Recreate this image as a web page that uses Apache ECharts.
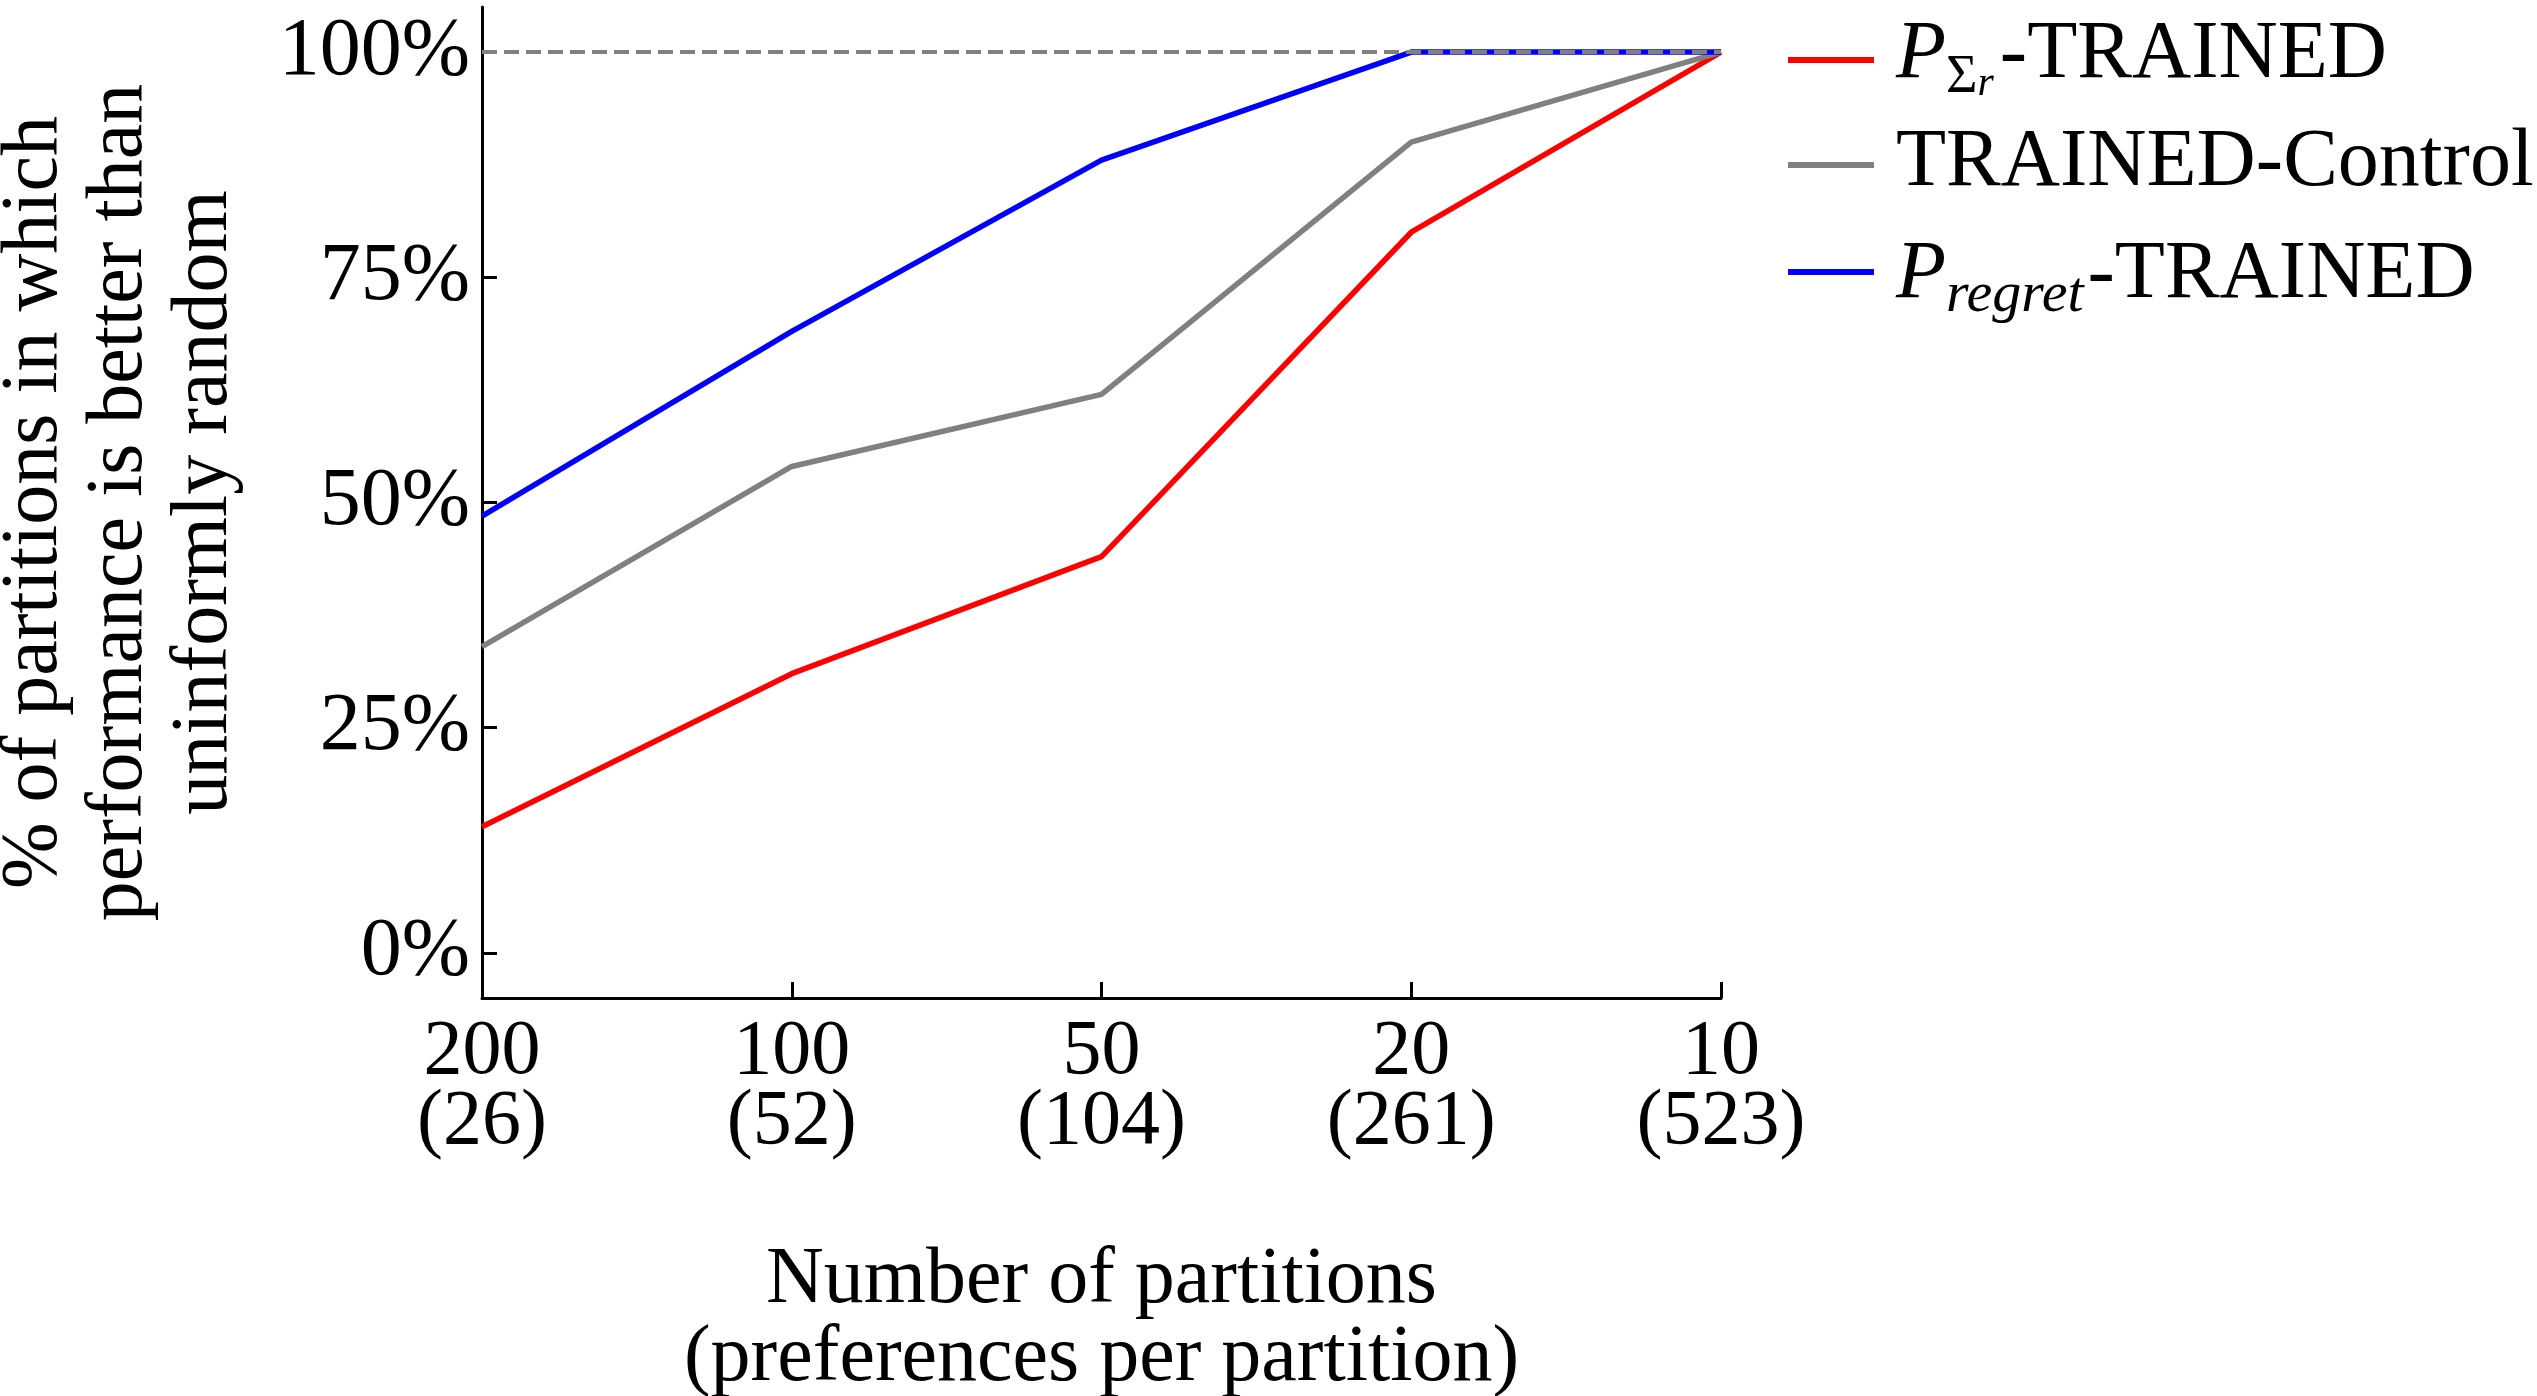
<!DOCTYPE html>
<html>
<head>
<meta charset="utf-8">
<script src="https://cdn.jsdelivr.net/npm/echarts@6/dist/echarts.min.js"></script>
<style>
html,body{margin:0;padding:0;background:#fff;}
#chart{width:2537px;height:1396px;}
</style>
</head>
<body>
<div id="chart"></div>
<script>
// ---- data ----
const partitions = ['200', '100', '50', '20', '10'];
const prefsPerPartition = ['(26)', '(52)', '(104)', '(261)', '(523)'];
const yTicks = [0, 25, 50, 75, 100];
const sigmaTrained = [14, 31, 44, 80, 100];      // P_{Σr}-TRAINED (red)
const trainedControl = [34, 54, 62, 90, 100];    // TRAINED-Control (gray)
const regretTrained = [48.5, 69, 88, 100, 100];  // P_regret-TRAINED (blue)
const refLine = 100;

const categories = partitions.map((p, i) => p + '\n' + prefsPerPartition[i]);
const FONT = '"Liberation Serif", "Times New Roman", serif';

const names = ['PΣr-TRAINED', 'TRAINED-Control', 'Pregret-TRAINED'];
const colors = ['#ff0000', '#808080', '#0000ff'];
const legendText = [
  '{p|P}{sig|Σ}{r|r}{t|-TRAINED}',
  '{t|TRAINED-Control}',
  '{p|P}{sub|regret}{t|-TRAINED}'
];
const rich = {
  t: { fontFamily: FONT, fontSize: 82, lineHeight: 100, fill: '#000' },
  p: { fontFamily: FONT, fontStyle: 'italic', fontSize: 82, lineHeight: 100, fill: '#000' },
  sig: { fontFamily: FONT, fontSize: 54, lineHeight: 60, verticalAlign: 'bottom', fill: '#000' },
  r: { fontFamily: FONT, fontStyle: 'italic', fontSize: 42, lineHeight: 36, verticalAlign: 'bottom', fill: '#000', padding: [0, 6, 0, 0] },
  sub: { fontFamily: FONT, fontStyle: 'italic', fontSize: 58, lineHeight: 58, verticalAlign: 'bottom', fill: '#000', padding: [0, 4, 0, 0] }
};
const legendLineY = [60, 165, 272];
const legendTextY = [55, 163, 275];
const legendGraphics = [];
names.forEach((n, i) => {
  legendGraphics.push({
    type: 'line', silent: true,
    shape: { x1: 1788, y1: legendLineY[i], x2: 1874, y2: legendLineY[i] },
    style: { stroke: colors[i], lineWidth: 6 }
  });
  legendGraphics.push({
    type: 'text', silent: true, x: 1896, y: legendTextY[i],
    style: { text: legendText[i], rich: rich, fill: '#000', fontFamily: FONT, fontSize: 82, align: 'left', verticalAlign: 'middle' }
  });
});

const chart = echarts.init(document.getElementById('chart'));
const option = {
  animation: false,
  backgroundColor: '#ffffff',
  grid: { left: 482, right: 816, top: 7, bottom: 398, containLabel: false, outerBoundsMode: 'none' },
  graphic: legendGraphics,
  xAxis: {
    type: 'category',
    data: categories,
    boundaryGap: false,
    name: 'Number of partitions\n(preferences per partition)',
    nameLocation: 'middle',
    nameGap: 244,
    nameTextStyle: { fontFamily: FONT, fontSize: 80, lineHeight: 78, color: '#000' },
    axisLine: { show: true, onZero: false, lineStyle: { color: '#000', width: 3 } },
    axisTick: { show: true, inside: true, length: 16, alignWithLabel: true, lineStyle: { color: '#000', width: 3 } },
    axisLabel: { fontFamily: FONT, fontSize: 78, lineHeight: 70, color: '#000', margin: 20, interval: 0 },
    splitLine: { show: false }
  },
  yAxis: {
    type: 'value',
    min: -5,
    max: 105,
    name: '% of partitions in which\nperformance is better than\nuninformly random',
    nameLocation: 'middle',
    nameRotate: 90,
    nameGap: 235,
    nameTextStyle: { fontFamily: FONT, fontSize: 80, lineHeight: 85, color: '#000' },
    axisLine: { show: true, onZero: false, lineStyle: { color: '#000', width: 3 } },
    axisTick: { show: true, inside: true, length: 15, customValues: yTicks, lineStyle: { color: '#000', width: 3 } },
    axisLabel: { fontFamily: FONT, fontSize: 82, color: '#000', margin: 12, customValues: yTicks, formatter: v => v + '%' },
    splitLine: { show: false }
  },
  series: [
    {
      name: names[0], type: 'line', data: sigmaTrained, showSymbol: false, symbol: 'none',
      color: colors[0], lineStyle: { color: colors[0], width: 5.5 }, z: 3
    },
    {
      name: names[1], type: 'line', data: trainedControl, showSymbol: false, symbol: 'none',
      color: colors[1], lineStyle: { color: colors[1], width: 5.5 }, z: 3
    },
    {
      name: names[2], type: 'line', data: regretTrained, showSymbol: false, symbol: 'none',
      color: colors[2], lineStyle: { color: colors[2], width: 5.5 }, z: 4,
      markLine: {
        silent: true, symbol: 'none', label: { show: false },
        lineStyle: { color: '#808080', width: 4, type: [15, 7] },
        data: [{ yAxis: refLine }]
      }
    }
  ]
};
chart.setOption(option);
</script>
</body>
</html>
